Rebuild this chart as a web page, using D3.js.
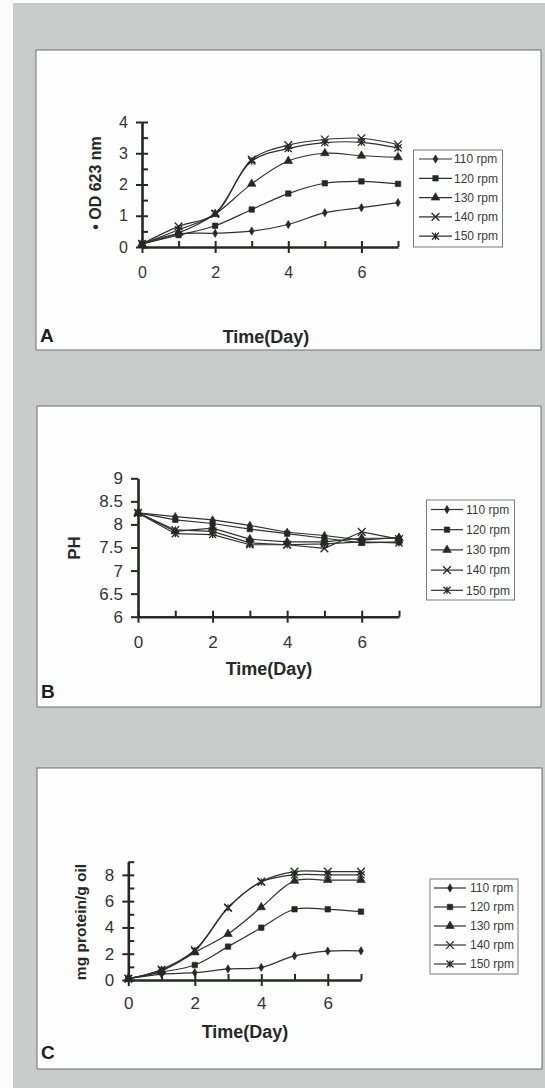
<!DOCTYPE html>
<html>
<head>
<meta charset="utf-8">
<script src="https://cdn.jsdelivr.net/npm/d3@7"></script>
<style>
  html, body { margin: 0; padding: 0; background: #fff; }
  svg { display: block; font-family: "Liberation Sans", Arial, sans-serif; }
</style>
</head>
<body>
<svg width="545" height="1088"></svg>
<script>
// shared x values and legend names
const days = [0, 1, 2, 3, 4, 5, 6, 7]
const speeds = ['110 rpm', '120 rpm', '130 rpm', '140 rpm', '150 rpm']

// A: OD 623 nm
const od110 = [0.1, 0.42, 0.44, 0.51, 0.72, 1.1, 1.26, 1.42]
const od120 = [0.1, 0.38, 0.68, 1.2, 1.71, 2.04, 2.1, 2.02]
const od130 = [0.1, 0.45, 1.05, 2.02, 2.75, 3.0, 2.92, 2.87]
const od140 = [0.1, 0.66, 1.06, 2.8, 3.26, 3.44, 3.48, 3.28]
const od150 = [0.1, 0.55, 1.08, 2.75, 3.15, 3.34, 3.35, 3.17]

// B: pH
const ph110 = [8.25, 8.17, 8.1, 7.98, 7.83, 7.76, 7.66, 7.72]
const ph120 = [8.25, 8.1, 8.02, 7.9, 7.8, 7.7, 7.6, 7.62]
const ph130 = [8.25, 7.85, 7.92, 7.68, 7.62, 7.62, 7.7, 7.7]
const ph140 = [8.25, 7.88, 7.85, 7.6, 7.56, 7.48, 7.84, 7.68]
const ph150 = [8.25, 7.8, 7.78, 7.56, 7.56, 7.58, 7.62, 7.6]

// C: mg protein / g oil
const pr110 = [0.1, 0.45, 0.56, 0.84, 0.96, 1.83, 2.2, 2.22]
const pr120 = [0.1, 0.6, 1.14, 2.54, 3.98, 5.38, 5.38, 5.2]
const pr130 = [0.1, 0.7, 2.1, 3.5, 5.53, 7.54, 7.6, 7.6]
const pr140 = [0.1, 0.8, 2.28, 5.5, 7.49, 8.25, 8.25, 8.25]
const pr150 = [0.1, 0.75, 2.2, 5.5, 7.45, 8.0, 8.0, 8.0]

const ink = '#262826'

// stroke-only markers (Excel "x" and "star")
const symX = {
  draw (ctx, size) {
    const r = Math.sqrt(size) / 2
    ctx.moveTo(-r, -r); ctx.lineTo(r, r)
    ctx.moveTo(r, -r); ctx.lineTo(-r, r)
  }
}
const symStar = {
  draw (ctx, size) {
    const r = Math.sqrt(size) / 2
    ctx.moveTo(-r, -r); ctx.lineTo(r, r)
    ctx.moveTo(r, -r); ctx.lineTo(-r, r)
    ctx.moveTo(0, -r); ctx.lineTo(0, r)
  }
}
const markers = [
  { type: d3.symbolDiamond, size: 20, fill: true },
  { type: d3.symbolSquare, size: 30, fill: true },
  { type: d3.symbolTriangle, size: 32, fill: true },
  { type: symX, size: 60, fill: false },
  { type: symStar, size: 50, fill: false }
]

const svg = d3.select('svg')

// page background: grey board with a white strip on the left
svg.append('rect').attr('width', 545).attr('height', 1088).attr('fill', '#fbfbfb')
svg.append('rect').attr('x', 13).attr('y', 3).attr('width', 532).attr('height', 1085).attr('fill', '#c9cbca')

function drawMarker (sel, m, cx, cy) {
  sel.append('path')
    .attr('transform', `translate(${cx},${cy})`)
    .attr('d', d3.symbol().type(m.type).size(m.size)())
    .attr('fill', m.fill ? ink : 'none')
    .attr('stroke', ink)
    .attr('stroke-width', m.fill ? 0.6 : 1.3)
}

function drawPanel (p) {
  const g = svg.append('g')

  g.append('rect')
    .attr('x', p.box[0]).attr('y', p.box[1])
    .attr('width', p.box[2]).attr('height', p.box[3])
    .attr('fill', '#fdfdfd')
    .attr('stroke', '#6e706e')
    .attr('stroke-width', 1)

  const x = d3.scaleLinear().domain([0, 7]).range([p.x0, p.x1])
  const y = d3.scaleLinear().domain(p.yDomain).range([p.yBottom, p.yTop])

  // series lines
  const line = d3.line()
    .x((d, i) => x(days[i]))
    .y(d => y(d))
    .curve(p.curve)

  p.series.forEach(s => {
    g.append('path')
      .attr('d', line(s))
      .attr('fill', 'none')
      .attr('stroke', '#303230')
      .attr('stroke-width', 1.2)
  })
  p.series.forEach((s, k) => {
    s.forEach((v, i) => drawMarker(g, markers[k], x(days[i]), y(v)))
  })

  // y axis
  const yMajor = g.append('g')
    .attr('transform', `translate(${p.x0},0)`)
    .call(d3.axisLeft(y).tickValues(p.yTicks).tickSize(6).tickSizeOuter(0)
      .tickFormat(d3.format('')))
  yMajor.selectAll('.tick line').attr('x1', p.yCross ? 6 : 0).attr('x2', p.yCross ? -6 : -7)
  yMajor.selectAll('.tick text').attr('x', -p.yLabelGap)
  if (p.yMinor) {
    g.append('g')
      .attr('transform', `translate(${p.x0},0)`)
      .call(d3.axisLeft(y).tickValues(p.yMinor).tickSize(-6).tickFormat(''))
      .call(a => a.select('.domain').remove())
  }

  // x axis
  const xMajor = g.append('g')
    .attr('transform', `translate(0,${p.yBottom})`)
    .call(d3.axisBottom(x).tickValues([0, 2, 4, 6]).tickSize(6).tickSizeOuter(0)
      .tickFormat(d3.format('d')))
  xMajor.selectAll('.tick line').attr('y1', -6).attr('y2', 6)
  xMajor.selectAll('.tick text').attr('y', p.xLabelGap).attr('dy', '0.36em')
  g.append('g')
    .attr('transform', `translate(0,${p.yBottom})`)
    .call(d3.axisBottom(x).tickValues([1, 3, 5, 7]).tickSize(-6).tickFormat(''))
    .call(a => a.select('.domain').remove())

  g.selectAll('.domain').attr('stroke', ink).attr('stroke-width', 2.6)
  g.selectAll('.tick line').attr('stroke', ink).attr('stroke-width', 2)
  g.selectAll('.tick text')
    .attr('fill', '#333533')
    .style('font-family', '"Liberation Sans", Arial, sans-serif')
    .style('font-size', p.tickFont + 'px')

  // axis titles
  g.append('text')
    .attr('transform', `translate(${p.yTitle[0]},${p.yTitle[1]}) rotate(-90)`)
    .attr('text-anchor', 'middle')
    .attr('dy', '0.35em')
    .attr('fill', ink)
    .style('font-weight', 'bold')
    .style('font-size', p.yTitleFont + 'px')
    .text(p.yLabel)

  g.append('text')
    .attr('x', p.xTitle[0]).attr('y', p.xTitle[1])
    .attr('text-anchor', 'middle')
    .attr('fill', ink)
    .style('font-weight', 'bold')
    .style('font-size', '18px')
    .text('Time(Day)')

  g.append('text')
    .attr('x', p.letter[0]).attr('y', p.letter[1])
    .attr('fill', '#1e201e')
    .style('font-weight', 'bold')
    .style('font-size', '19px')
    .text(p.name)

  // legend
  const L = p.legend
  g.append('rect')
    .attr('x', L.x).attr('y', L.y).attr('width', L.w).attr('height', L.h)
    .attr('fill', '#fdfdfd')
    .attr('stroke', '#7a7c7a')
    .attr('stroke-width', 1)
  speeds.forEach((name, k) => {
    const ry = L.row0 + k * L.step
    g.append('line')
      .attr('x1', L.lx0).attr('x2', L.lx1)
      .attr('y1', ry).attr('y2', ry)
      .attr('stroke', '#303230').attr('stroke-width', 1.2)
    drawMarker(g, markers[k], (L.lx0 + L.lx1) / 2, ry)
    g.append('text')
      .attr('x', L.tx).attr('y', ry)
      .attr('dy', '0.35em')
      .attr('fill', '#3a3c3a')
      .style('font-size', '12px')
      .text(name)
  })
}

drawPanel({
  name: 'A',
  box: [36, 50, 505, 300],
  x0: 142, x1: 398, yBottom: 247, yTop: 122,
  yDomain: [0, 4], yTicks: [0, 1, 2, 3, 4], yMinor: [0.5, 1.5, 2.5, 3.5], yCross: true,
  yLabelGap: 14, xLabelGap: 25, tickFont: 16,
  curve: d3.curveCatmullRom.alpha(0.5),
  series: [od110, od120, od130, od140, od150],
  yLabel: '\u2022 OD 623 nm', yTitle: [95, 183], yTitleFont: 16,
  xTitle: [266, 343], letter: [40, 342],
  legend: { x: 413.5, y: 150, w: 89, h: 97, row0: 159, step: 19.3, lx0: 419, lx1: 452, tx: 454 }
})

drawPanel({
  name: 'B',
  box: [37, 406, 504, 301],
  x0: 138, x1: 399, yBottom: 616.7, yTop: 478.3,
  yDomain: [6, 9], yTicks: d3.range(6, 9.01, 0.5), yMinor: null, yCross: false,
  yLabelGap: 15, xLabelGap: 25, tickFont: 17,
  curve: d3.curveLinear,
  series: [ph110, ph120, ph130, ph140, ph150],
  yLabel: 'PH', yTitle: [74, 548], yTitleFont: 17,
  xTitle: [269, 675], letter: [41, 698],
  legend: { x: 426.5, y: 500, w: 88, h: 100, row0: 509.5, step: 20.2, lx0: 431, lx1: 463, tx: 466 }
})

drawPanel({
  name: 'C',
  box: [37, 768, 505, 301],
  x0: 128.3, x1: 361, yBottom: 980, yTop: 861.7,
  yDomain: [0, 9], yTicks: [0, 2, 4, 6, 8], yMinor: [1, 3, 5, 7, 9], yCross: true,
  yLabelGap: 14, xLabelGap: 23, tickFont: 17,
  curve: d3.curveCatmullRom.alpha(0.5),
  series: [pr110, pr120, pr130, pr140, pr150],
  yLabel: 'mg protein/g oil', yTitle: [81, 922], yTitleFont: 15.5,
  xTitle: [245, 1038], letter: [41, 1059],
  legend: { x: 430, y: 879, w: 88, h: 95, row0: 888, step: 19, lx0: 434, lx1: 466, tx: 470 }
})
</script>
</body>
</html>
